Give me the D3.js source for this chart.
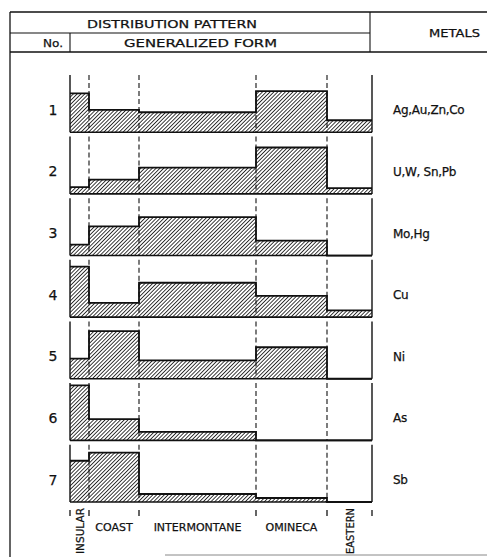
<!DOCTYPE html>
<html>
<head>
<meta charset="utf-8">
<script src="https://cdn.jsdelivr.net/npm/d3@7"></script>
<style>
  body { margin: 0; background: #fff; }
  svg { display: block; }
  text { font-family: "DejaVu Sans", "Noto Sans", sans-serif; fill: #111; stroke: #111; stroke-width: 0.25; }
</style>
</head>
<body>
<div id="myfigure"></div>
<script>
// zone names and the relative widths of each belt (left to right)
var zones = ["INSULAR", "COAST", "INTERMONTANE", "OMINECA", "EASTERN"];
var zoneEdges = [0, 19, 69, 186, 257, 302];

// pattern number and metals
var patternNo = ["1", "2", "3", "4", "5", "6", "7"];
var metals = ["Ag,Au,Zn,Co", "U,W, Sn,Pb", "Mo,Hg", "Cu", "Ni", "As", "Sb"];

// relative abundance per zone (0-10), one array per pattern
var pattern1 = [6.8, 3.9, 3.5, 7.2, 2.1];
var pattern2 = [1.2, 2.5, 4.6, 8.1, 1.0];
var pattern3 = [1.9, 5.1, 6.7, 2.6, 0];
var pattern4 = [8.8, 2.5, 6.0, 3.7, 1.2];
var pattern5 = [3.5, 8.3, 3.2, 5.5, 0];
var pattern6 = [9.6, 3.7, 1.5, 0, 0];
var pattern7 = [7.2, 8.6, 1.4, 0.7, 0];
var patterns = [pattern1, pattern2, pattern3, pattern4, pattern5, pattern6, pattern7];

var width = 487, height = 557;

var svg = d3.select("#myfigure")
    .append("svg")
    .attr("width", width)
    .attr("height", height);

// hatch pattern
var defs = svg.append("defs");
defs.append("pattern")
    .attr("id", "hatch")
    .attr("patternUnits", "userSpaceOnUse")
    .attr("width", 2.7)
    .attr("height", 2.7)
    .attr("patternTransform", "rotate(45)")
    .append("line")
    .attr("x1", 0).attr("y1", 0)
    .attr("x2", 0).attr("y2", 2.7)
    .attr("stroke", "#1a1a1a")
    .attr("stroke-width", 1.7);

var xScale = d3.scaleLinear().domain([0, 302]).range([70, 372]);
var rowScale = d3.scaleBand().domain(patternNo).range([75, 502]).paddingInner(0.07);
var h = rowScale.bandwidth();
var vScale = d3.scaleLinear().domain([0, 10]).range([0, h]);

// table frame
var frame = svg.append("g").attr("stroke", "#111").attr("fill", "none");
frame.append("line").attr("x1", 10).attr("x2", 487).attr("y1", 12).attr("y2", 12).attr("stroke-width", 1.3);
frame.append("line").attr("x1", 10).attr("x2", 370).attr("y1", 33).attr("y2", 33).attr("stroke-width", 1.1);
frame.append("line").attr("x1", 10).attr("x2", 487).attr("y1", 52).attr("y2", 52).attr("stroke-width", 1.3);
frame.append("line").attr("x1", 10).attr("x2", 10).attr("y1", 12).attr("y2", 557).attr("stroke-width", 1.3);
frame.append("line").attr("x1", 370).attr("x2", 370).attr("y1", 12).attr("y2", 52).attr("stroke-width", 1.1);
frame.append("line").attr("x1", 70).attr("x2", 70).attr("y1", 33).attr("y2", 52).attr("stroke-width", 1.1);
frame.append("line").attr("x1", 165).attr("x2", 487).attr("y1", 555).attr("y2", 555).attr("stroke-width", 1).attr("stroke", "#888");

// header text
svg.append("text").attr("x", 87).attr("y", 28).attr("font-size", 10.5)
    .attr("textLength", 170).attr("lengthAdjust", "spacingAndGlyphs").text("DISTRIBUTION  PATTERN");
svg.append("text").attr("x", 43).attr("y", 47).attr("font-size", 11)
    .attr("textLength", 20).attr("lengthAdjust", "spacingAndGlyphs").text("No.");
svg.append("text").attr("x", 124).attr("y", 47).attr("font-size", 10.5)
    .attr("textLength", 153).attr("lengthAdjust", "spacingAndGlyphs").text("GENERALIZED  FORM");
svg.append("text").attr("x", 429).attr("y", 37).attr("font-size", 10.5)
    .attr("textLength", 51).attr("lengthAdjust", "spacingAndGlyphs").text("METALS");

// one row per pattern
var rows = svg.selectAll(".row")
    .data(patterns)
    .enter().append("g")
    .attr("class", "row")
    .attr("transform", function(d, i) { return "translate(0," + rowScale(patternNo[i]) + ")"; });

// step area
var area = d3.area()
    .x(function(d) { return xScale(d.x); })
    .y0(h)
    .y1(function(d) { return h - vScale(d.v); })
    .curve(d3.curveStepAfter);

var line = d3.line()
    .x(function(d) { return xScale(d.x); })
    .y(function(d) { return h - vScale(d.v); })
    .curve(d3.curveStepAfter);

function stepData(vals) {
    var pts = vals.map(function(v, i) { return { x: zoneEdges[i], v: v }; });
    pts.push({ x: zoneEdges[zoneEdges.length - 1], v: vals[vals.length - 1] });
    return pts;
}

rows.append("path")
    .attr("d", function(d) { return area(stepData(d)); })
    .attr("fill", "url(#hatch)");

// zone boundaries: dashed inside, solid at the outer edges
rows.each(function() {
    var g = d3.select(this);
    zoneEdges.slice(1, -1).forEach(function(e) {
        g.append("line")
            .attr("x1", xScale(e)).attr("x2", xScale(e))
            .attr("y1", 0).attr("y2", h)
            .attr("stroke", "#111")
            .attr("stroke-width", 1.1)
            .attr("stroke-dasharray", "5 3");
    });
    [zoneEdges[0], zoneEdges[zoneEdges.length - 1]].forEach(function(e) {
        g.append("line")
            .attr("x1", xScale(e)).attr("x2", xScale(e))
            .attr("y1", 0).attr("y2", h)
            .attr("stroke", "#111")
            .attr("stroke-width", 1.4);
    });
    g.append("line")
        .attr("x1", xScale(0)).attr("x2", xScale(302))
        .attr("y1", h).attr("y2", h)
        .attr("stroke", "#111")
        .attr("stroke-width", 1.6);
});

rows.append("path")
    .attr("d", function(d) { return line(stepData(d)); })
    .attr("fill", "none")
    .attr("stroke", "#111")
    .attr("stroke-width", 1.8);

rows.append("text")
    .attr("x", 53)
    .attr("y", h * 0.6 + 5.5)
    .attr("text-anchor", "middle")
    .attr("font-size", 14)
    .text(function(d, i) { return patternNo[i]; });

rows.append("text")
    .attr("x", 393)
    .attr("y", h * 0.6 + 5)
    .attr("font-size", 12)
    .attr("letter-spacing", -0.3)
    .text(function(d, i) { return metals[i]; });

// zone labels along the bottom
var axisY = rowScale(patternNo[patternNo.length - 1]) + h;
var bottom = svg.append("g");
zoneEdges.forEach(function(e) {
    bottom.append("line")
        .attr("x1", xScale(e)).attr("x2", xScale(e))
        .attr("y1", axisY + 8).attr("y2", axisY + 14)
        .attr("stroke", "#111")
        .attr("stroke-width", 1.3);
});
zones.forEach(function(z, i) {
    var mid = xScale((zoneEdges[i] + zoneEdges[i + 1]) / 2);
    if (z === "INSULAR" || z === "EASTERN") {
        bottom.append("text")
            .attr("transform", "translate(" + (mid + 4.5) + "," + (axisY + 52) + ") rotate(-90)")
            .attr("font-size", 10.5)
            .attr("textLength", 46)
            .attr("lengthAdjust", "spacingAndGlyphs")
            .text(z);
    } else {
        bottom.append("text")
            .attr("x", mid)
            .attr("y", axisY + 29)
            .attr("text-anchor", "middle")
            .attr("font-size", 11)
            .text(z);
    }
});
</script>
</body>
</html>
